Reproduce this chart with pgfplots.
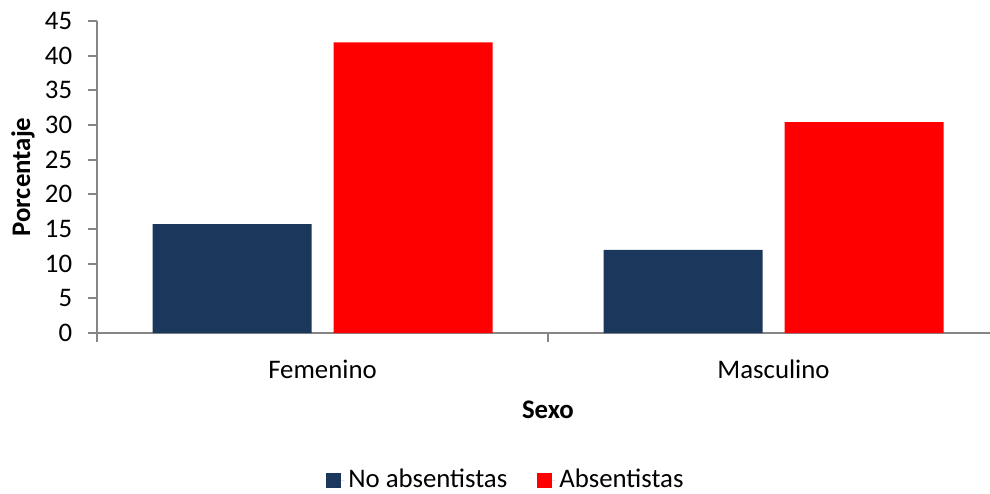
\documentclass[border=0pt]{standalone}
\usepackage{fontspec}
\setmainfont{Carlito}
\usepackage{pgfplots}
\pgfplotsset{compat=1.18}

\definecolor{navy}{HTML}{1B375C}
\definecolor{axgray}{HTML}{868686}

\begin{document}
\fontsize{13.4}{16}\selectfont
\begin{tikzpicture}
\begin{axis}[
    name=ax,
    scale only axis,
    width=446.5pt, height=156pt,
    ybar=11pt, bar width=79.5pt,
    xmin=-0.5, xmax=1.48,
    ymin=0, ymax=45,
    ytick={0,5,...,45},
    xtick={-0.5,0.5,1.5},
    xticklabels={},
    extra x ticks={0,1},
    extra x tick labels={Femenino,Masculino},
    extra x tick style={major tick length=0pt, tick label style={yshift=-9pt}},
    axis x line*=bottom, axis y line*=left,
    axis line style={axgray, line width=0.9pt},
    tick style={axgray, line width=0.9pt},
    tick align=outside, major tick length=4.25pt,
    /pgf/number format/assume math mode=true,
    tick label style={font=\fontsize{13.4}{16}\selectfont, black},
    yticklabel style={xshift=-3.5pt},
    ylabel={\textbf{Porcentaje}},
    ylabel style={at={(axis description cs:-0.0829,0.5)}, anchor=center},
    xlabel={\textbf{Sexo}},
    xlabel style={at={(axis description cs:0.505,0)}, anchor=center, yshift=-38.5pt},
    legend style={at={(axis description cs:0.459,0)}, anchor=center, yshift=-73.5pt,
        draw=none, legend columns=2, font=\fontsize{13.4}{16}\selectfont,
        /tikz/every even column/.append style={column sep=13pt}},
    legend image code/.code={\fill[#1] (0pt,-3.75pt) rectangle (7.5pt,3.75pt);
        \path (0pt,0pt) -- (9pt,0pt);},
]
\addplot[fill=navy, draw=none] coordinates {(0,15.7) (1,12.0)};
\addplot[fill=red, draw=none] coordinates {(0,41.9) (1,30.4)};
\legend{No absentistas, Absentistas}
\end{axis}
\pgfresetboundingbox
\path[use as bounding box] ([shift={(-48.5pt,-80pt)}]ax.south west) rectangle ([shift={(0pt,10.5pt)}]ax.north east);
\end{tikzpicture}
\end{document}
